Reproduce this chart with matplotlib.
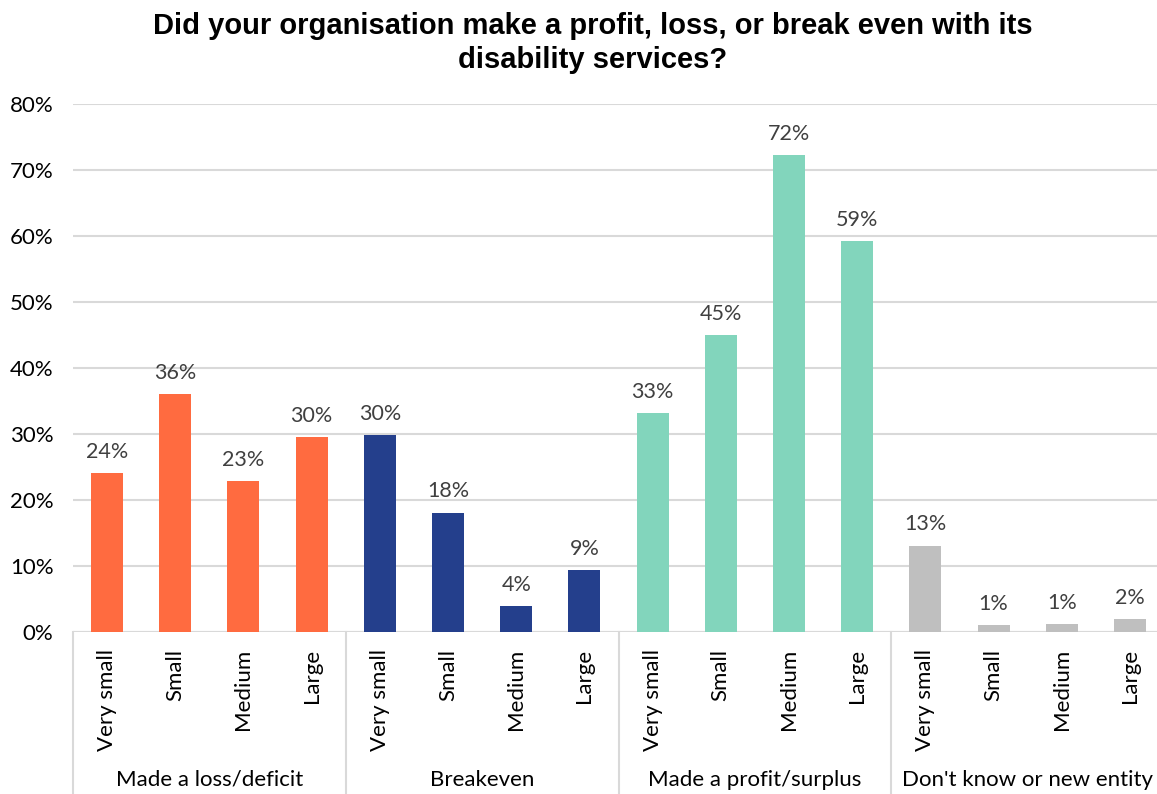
import matplotlib
matplotlib.use("Agg")
import matplotlib.pyplot as plt
from matplotlib.transforms import blended_transform_factory
from matplotlib.ticker import PercentFormatter

groups = ["Made a loss/deficit", "Breakeven", "Made a profit/surplus", "Don't know or new entity"]
sizes = ["Very small", "Small", "Medium", "Large"]
loss = [24.1, 36.1, 22.9, 29.6]
breakeven = [29.8, 18.1, 3.9, 9.4]
profit = [33.2, 45.0, 72.3, 59.3]
dontknow = [13.1, 1.0, 1.2, 1.9]
group_values = [loss, breakeven, profit, dontknow]
colors = ["#FF6B40", "#243F8C", "#82D5BC", "#BFBFBF"]
yticks = [0, 10, 20, 30, 40, 50, 60, 70, 80]

W, H = 1157, 794
fig = plt.figure(figsize=(W / 100, H / 100), dpi=100)
left, right, bottom, top = 73, 1164, 632, 104
ax = fig.add_axes([left / W, 1 - bottom / H, (right - left) / W, (bottom - top) / H])

font = "Lato"
grid_c = "#D9D9D9"

x = 0
for g, (vals, col) in enumerate(zip(group_values, colors)):
    for v in vals:
        ax.bar(x, v, width=0.47, color=col, zorder=3)
        ax.annotate(f"{round(v):d}%", (x, v), xytext=(0, 8), textcoords="offset points",
                    ha="center", va="bottom", fontsize=15.5, color="#404040", family=font)
        x += 1

n = x
ax.set_xlim(-0.5, n - 0.5)
ax.set_ylim(0, 80)
ax.set_yticks(yticks)
ax.yaxis.set_major_formatter(PercentFormatter(decimals=0))
ax.tick_params(axis="y", length=0, pad=14, labelsize=16, labelcolor="#000000")
for lab in ax.get_yticklabels():
    lab.set_family(font)
ax.set_xticks([])
ax.grid(axis="y", color=grid_c, linewidth=1.5, zorder=0)
for s in ax.spines.values():
    s.set_visible(False)

trans = blended_transform_factory(ax.transData, fig.transFigure)
ax.axhline(0, color=grid_c, linewidth=1.5, zorder=2)
i = 0
for g in range(len(groups)):
    for s in sizes:
        ax.text(i, 1 - 649 / H, s, rotation=90, ha="center", va="top", fontsize=16,
                family=font, color="#000000", transform=trans)
        i += 1
    ax.text(g * 4 + 1.5, 1 - 780 / H, groups[g], ha="center", va="center", fontsize=16,
            family=font, color="#000000", transform=trans)
for k in range(len(groups) + 1):
    xs = k * 4 - 0.5
    ax.plot([xs, xs], [1 - bottom / H, 0], color=grid_c, linewidth=1.5,
            transform=trans, clip_on=False)

fig.text(593 / W, 1 - 43 / H, "Did your organisation make a profit, loss, or break even with its\ndisability services?",
         ha="center", va="center", fontsize=21, fontweight="bold", family="Liberation Sans",
         linespacing=1.25)

fig.savefig("out.png", dpi=100, facecolor="white")
